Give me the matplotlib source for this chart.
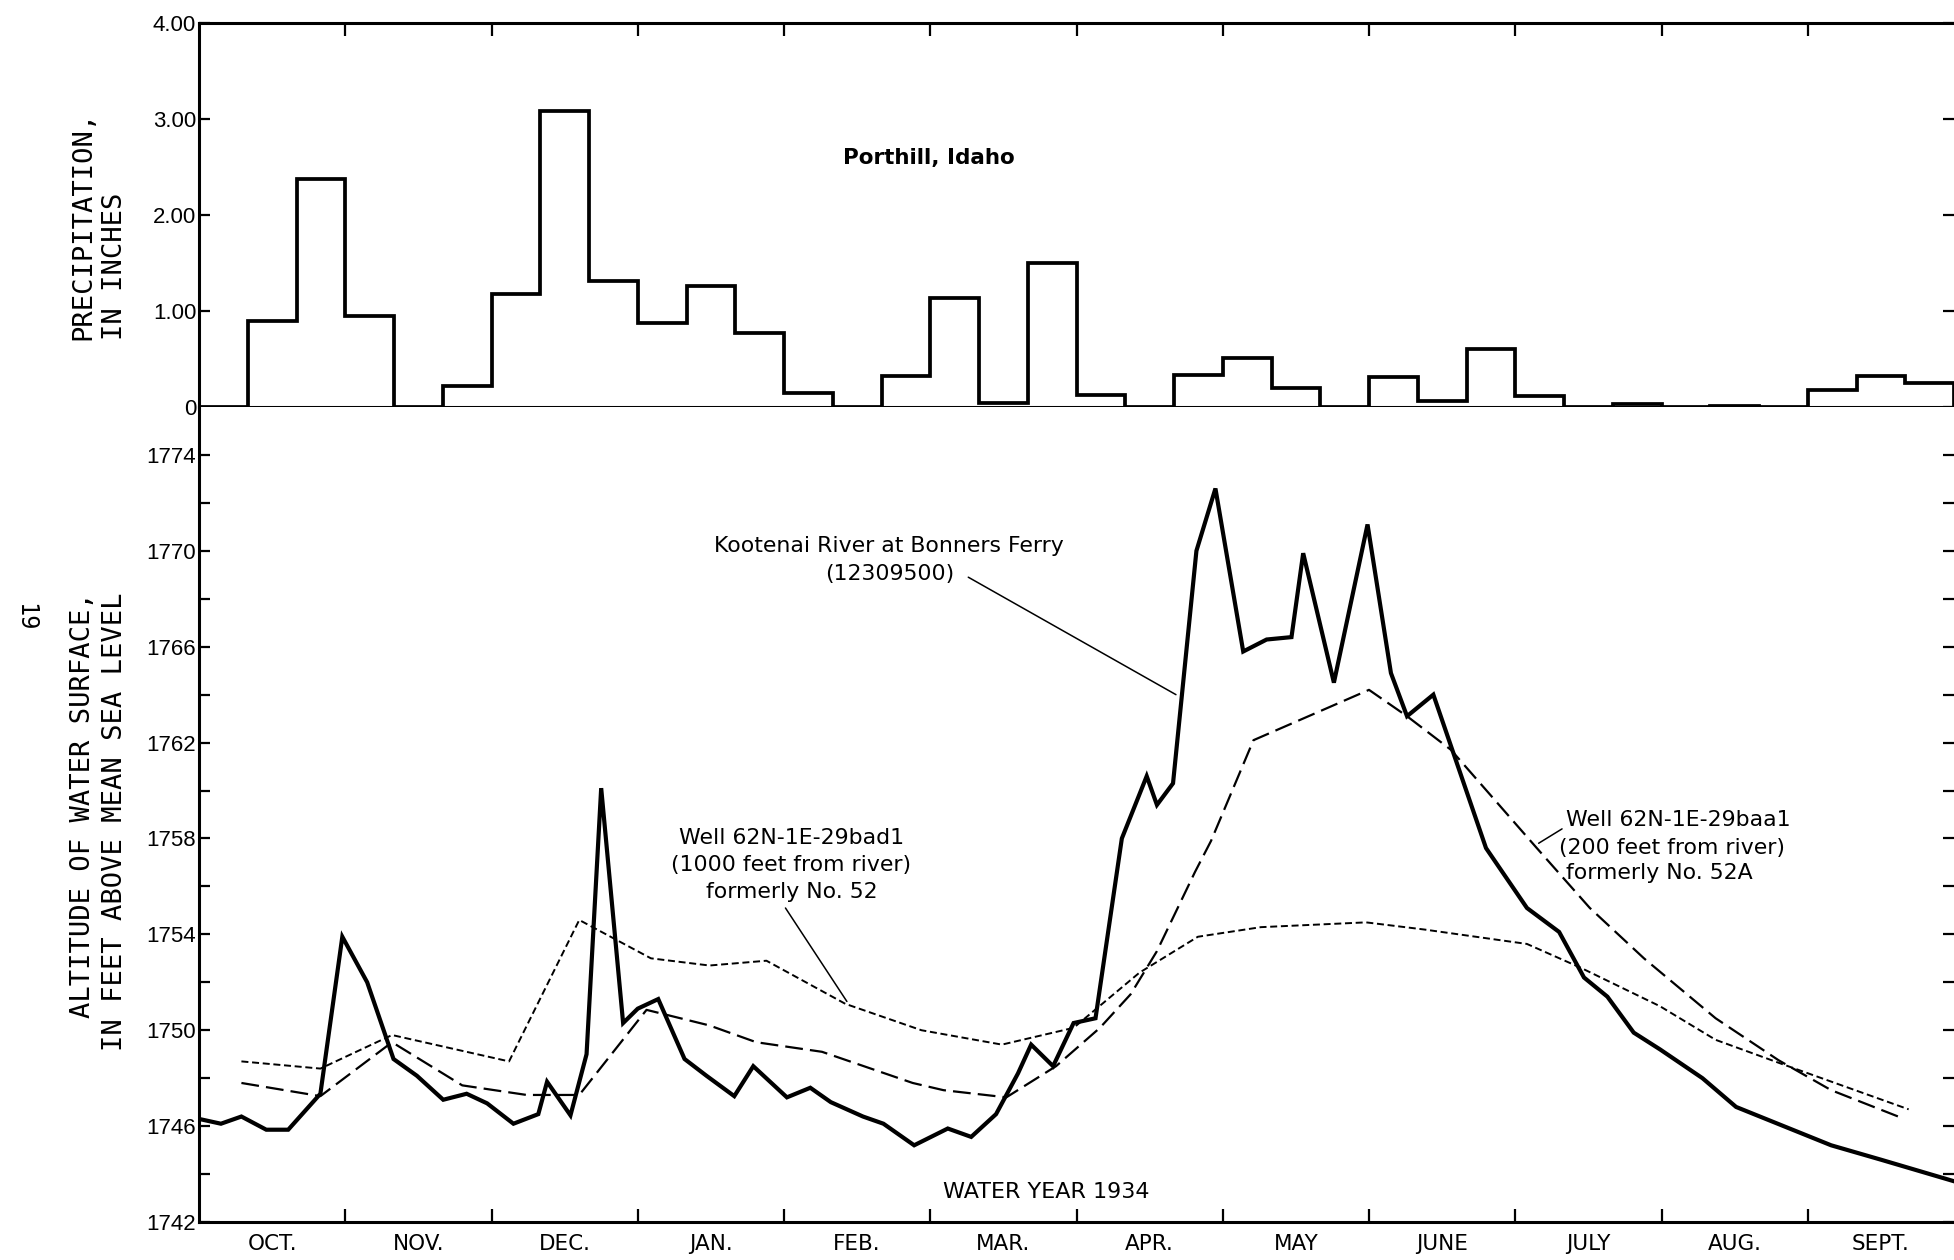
import numpy as np
import matplotlib
matplotlib.use("Agg")
import matplotlib.pyplot as plt

# ---------------- data ----------------
month_labels = ["OCT.", "NOV.", "DEC.", "JAN.", "FEB.", "MAR.", "APR.",
                "MAY", "JUNE", "JULY", "AUG.", "SEPT."]

# precipitation at Porthill, Idaho, by thirds of month (inches), Oct 1933 - Sept 1934
precip = [0.00, 0.90, 2.38,   0.95, 0.00, 0.22,   1.18, 3.08, 1.31,
          0.87, 1.26, 0.77,   0.15, 0.00, 0.32,   1.14, 0.04, 1.50,
          0.12, 0.00, 0.33,   0.51, 0.20, 0.00,   0.31, 0.06, 0.60,
          0.11, 0.00, 0.03,   0.00, 0.01, 0.00,   0.18, 0.32, 0.25]

# time in months since Oct 1, 1933
river_t = [0.00, 0.15, 0.29, 0.46, 0.61, 0.83, 0.98, 1.15, 1.33, 1.49, 1.67, 1.83,
           1.97, 2.15, 2.32, 2.38, 2.54, 2.65, 2.75, 2.90, 3.00, 3.14, 3.32, 3.47,
           3.66, 3.79, 4.02, 4.18, 4.32, 4.54, 4.68, 4.89, 5.12, 5.28, 5.45, 5.60,
           5.69, 5.84, 5.98, 6.13, 6.31, 6.48, 6.55, 6.66, 6.82, 6.95, 7.14, 7.30,
           7.47, 7.55, 7.76, 7.99, 8.15, 8.26, 8.44, 8.80, 9.08, 9.30, 9.47, 9.63,
           9.81, 9.99, 10.28, 10.51, 11.16, 11.50, 12.00]
river_ft = [1746.3, 1746.1, 1746.4, 1745.85, 1745.85, 1747.35, 1753.9, 1752.0, 1748.8,
            1748.1, 1747.1, 1747.35, 1746.95, 1746.1, 1746.5, 1747.85, 1746.45, 1749.0,
            1760.1, 1750.3, 1750.9, 1751.3, 1748.8, 1748.1, 1747.25, 1748.5, 1747.2,
            1747.6, 1747.0, 1746.4, 1746.1, 1745.2, 1745.9, 1745.55, 1746.5, 1748.2,
            1749.4, 1748.5, 1750.3, 1750.5, 1758.0, 1760.6, 1759.4, 1760.3, 1770.0,
            1772.6, 1765.8, 1766.3, 1766.4, 1769.9, 1764.5, 1771.1, 1764.9, 1763.1,
            1764.0, 1757.6, 1755.1, 1754.1, 1752.2, 1751.4, 1749.9, 1749.2, 1748.0,
            1746.8, 1745.2, 1744.6, 1743.7]

# Well 62N-1E-29baa1 (200 feet from river)
w200_t = [0.29, 0.83, 1.32, 1.80, 2.24, 2.60, 3.06, 3.49, 3.81, 4.26, 4.88, 5.09,
          5.52, 5.86, 6.16, 6.37, 6.55, 6.81, 6.92, 7.21, 8.00, 8.26, 8.56, 9.14,
          9.51, 9.88, 10.37, 10.80, 11.16, 11.66]
w200_ft = [1747.8, 1747.25, 1749.5, 1747.7, 1747.3, 1747.3, 1750.85, 1750.2, 1749.5,
           1749.1, 1747.8, 1747.5, 1747.2, 1748.5, 1750.1, 1751.5, 1753.3, 1756.6,
           1757.9, 1762.1, 1764.2, 1763.1, 1761.7, 1757.65, 1755.1, 1753.0, 1750.5,
           1748.75, 1747.5, 1746.3]

# Well 62N-1E-29bad1 (1000 feet from river)
w1000_t = [0.29, 0.83, 1.32, 2.12, 2.60, 3.09, 3.49, 3.88, 4.42, 4.94, 5.49, 5.98,
           6.43, 6.83, 7.26, 7.98, 8.38, 9.08, 9.45, 9.99, 10.37, 10.82, 11.69]
w1000_ft = [1748.7, 1748.4, 1749.8, 1748.7, 1754.6, 1753.0, 1752.7, 1752.9, 1751.1,
            1750.0, 1749.4, 1750.1, 1752.4, 1753.9, 1754.3, 1754.5, 1754.2, 1753.6,
            1752.6, 1751.0, 1749.6, 1748.6, 1746.7]

precip_ticks = [0, 1, 2, 3, 4]
precip_ticklabels = ["0", "1.00", "2.00", "3.00", "4.00"]
alt_ticks = list(range(1742, 1775, 4))

# ---------------- figure ----------------
SANS = ["Liberation Sans", "DejaVu Sans"]
ANN = ["DejaVu Sans"]
MONO = ["DejaVu Sans Mono", "DejaVu Sans"]
plt.rcParams["font.family"] = SANS

W, H = 1954, 1260
fig = plt.figure(figsize=(W / 100, H / 100), dpi=100)
left = 199 / W
ax1 = fig.add_axes([left, 1 - 407 / H, 1 - left, (407 - 23) / H])
ax2 = fig.add_axes([left, 1 - 1222 / H, 1 - left, (1222 - 407) / H])

SPINE_LW = 2.2
for ax in (ax1, ax2):
    ax.set_xlim(0, 12)
    for s in ax.spines.values():
        s.set_linewidth(SPINE_LW)
    ax.spines["right"].set_visible(False)

# ---- top: precipitation ----
edges = np.arange(len(precip) + 1) / 3.0
ax1.stairs(precip, edges, baseline=0, color="k", lw=2.7, fill=False)
ax1.set_ylim(0, 4)
ax1.set_yticks(precip_ticks)
ax1.set_yticklabels(precip_ticklabels)
ax1.set_xticks(range(1, 12))
ax1.tick_params(axis="x", top=True, bottom=False, labelbottom=False,
                direction="in", length=9.5, width=1.6)
ax1.tick_params(axis="y", left=True, right=True, direction="in",
                length=8, width=1.6, labelsize=16, pad=2)
ax1.text(4.99, 2.59, "Porthill, Idaho", ha="center", va="center",
         fontsize=15.5, fontweight="bold", family=ANN)

# ---- bottom: water levels ----
ax2.spines["top"].set_visible(False)
ax2.set_ylim(1742, 1776)
ax2.set_yticks(alt_ticks)
ax2.set_yticks(range(1744, 1776, 4), minor=True)
ax2.tick_params(axis="y", which="both", left=True, right=True, direction="in",
                length=8, width=1.6, labelsize=16, pad=2)
ax2.set_xticks(range(1, 12))
ax2.set_xticks(np.arange(12) + 0.5, minor=True)
ax2.set_xticklabels([], minor=False)
ax2.set_xticklabels(month_labels, minor=True, family=ANN)
ax2.tick_params(axis="x", which="major", direction="in", length=9.5, width=1.6,
                bottom=True, top=False)
ax2.tick_params(axis="x", which="minor", length=0, pad=9, labelsize=15.5)

ax2.plot(w1000_t, w1000_ft, color="k", lw=1.4, ls=(0, (3.6, 1.9)))
ax2.plot(w200_t, w200_ft, color="k", lw=1.6, ls=(0, (8.0, 3.2)))
ax2.plot(river_t, river_ft, color="k", lw=3.0, solid_joinstyle="miter")

TXT = 15.8
ax2.text(4.72, 1770.2, "Kootenai River at Bonners Ferry", ha="center", va="center",
         fontsize=TXT, family=ANN)
ax2.text(4.72, 1769.05, "(12309500)", ha="center", va="center", fontsize=TXT, family=ANN)
ax2.annotate("", xy=(6.68, 1764.0), xytext=(5.26, 1768.9),
             arrowprops=dict(arrowstyle="-", color="k", lw=1.1, shrinkA=0, shrinkB=0))

ax2.text(4.05, 1758.0, "Well 62N-1E-29bad1", ha="center", va="center", fontsize=TXT, family=ANN)
ax2.text(4.05, 1756.9, "(1000 feet from river)", ha="center", va="center", fontsize=TXT, family=ANN)
ax2.text(4.05, 1755.75, "formerly No. 52", ha="center", va="center", fontsize=TXT, family=ANN)
ax2.annotate("", xy=(4.43, 1751.2), xytext=(4.01, 1755.1),
             arrowprops=dict(arrowstyle="-", color="k", lw=1.1, shrinkA=0, shrinkB=0))

ax2.text(9.35, 1758.75, "Well 62N-1E-29baa1", ha="left", va="center", fontsize=TXT, family=ANN)
ax2.text(9.30, 1757.6, "(200 feet from river)", ha="left", va="center", fontsize=TXT, family=ANN)
ax2.text(9.35, 1756.55, "formerly No. 52A", ha="left", va="center", fontsize=TXT, family=ANN)
ax2.annotate("", xy=(9.16, 1757.8), xytext=(9.32, 1758.4),
             arrowprops=dict(arrowstyle="-", color="k", lw=1.1, shrinkA=0, shrinkB=0))

ax2.text(5.79, 1743.25, "WATER YEAR 1934", ha="center", va="center", fontsize=16, family=ANN)

# ---- axis titles ----
fig.text(99 / W, 1 - 225 / H, "PRECIPITATION,\nIN INCHES", rotation=90,
         ha="center", va="center", multialignment="left", family=MONO,
         fontsize=19.5, linespacing=1.3)
fig.text(99 / W, 1 - 822 / H, "ALTITUDE OF WATER SURFACE,\nIN FEET ABOVE MEAN SEA LEVEL",
         rotation=90, ha="center", va="center", multialignment="right", family=MONO,
         fontsize=19.5, linespacing=1.3)
fig.text(25 / W, 1 - 617 / H, "19", rotation=270, ha="center", va="center",
         family=MONO, fontsize=17)

fig.savefig("out.png", dpi=100)
